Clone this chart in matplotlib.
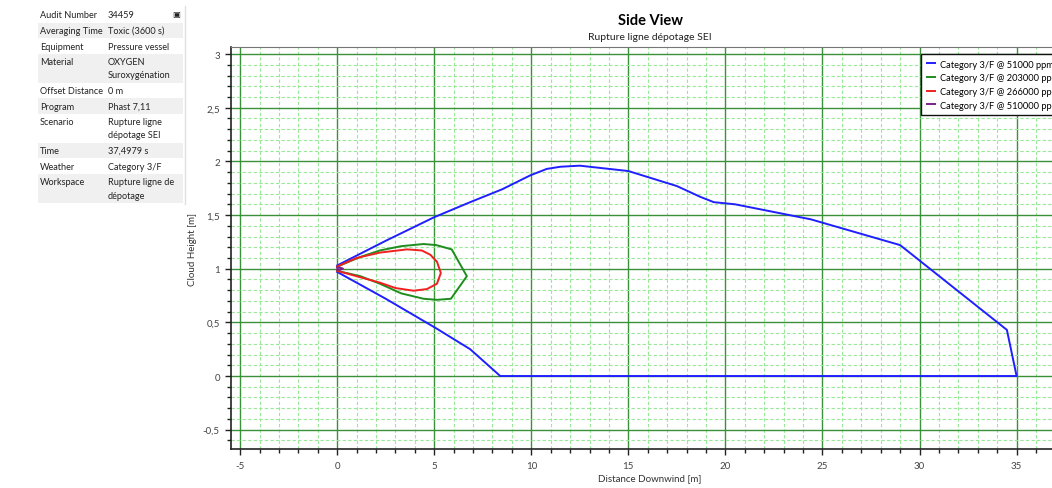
import matplotlib
matplotlib.use("Agg")
import matplotlib.pyplot as plt
from matplotlib.patches import Rectangle
from matplotlib.lines import Line2D
from matplotlib.ticker import MultipleLocator, FuncFormatter

# property panel on the left
prop_labels = ["Audit Number", "Averaging Time", "Equipment", "Material", "Offset Distance",
               "Program", "Scenario", "Time", "Weather", "Workspace"]
prop_values = ["34459", "Toxic (3600 s)", "Pressure vessel", "OXYGEN\nSuroxygénation", "0 m",
               "Phast 7,11", "Rupture ligne\ndépotage SEI", "37,4979 s", "Category 3/F",
               "Rupture ligne de\ndépotage"]

# cloud outlines (closed contours, side view)
series_labels = ["Category 3/F @ 51000 ppm", "Category 3/F @ 203000 ppm",
                 "Category 3/F @ 266000 ppm", "Category 3/F @ 510000 ppm"]
series_colors = ["#1f1fff", "#1e8c1e", "#f02020", "#7a1f8c"]

x_51000 = [0, 2.5, 5.0, 6.85, 8.5, 9.95, 10.8, 11.5, 12.5, 15.0, 17.5, 18.7, 19.4, 20.5, 24.4,
           29.0, 34.5, 35.0, 8.4, 6.85, 5.05, 2.5, 0]
y_51000 = [1.03, 1.26, 1.48, 1.62, 1.74, 1.87, 1.93, 1.95, 1.96, 1.91, 1.77, 1.67, 1.62, 1.60,
           1.46, 1.22, 0.43, 0.0, 0.0, 0.25, 0.45, 0.72, 0.97]

x_203000 = [0, 1.2, 2.2, 3.3, 4.45, 5.1, 5.9, 6.68, 5.86, 5.14, 4.45, 3.3, 2.2, 1.2, 0]
y_203000 = [1.02, 1.11, 1.17, 1.21, 1.23, 1.22, 1.18, 0.93, 0.72, 0.71, 0.72, 0.77, 0.86, 0.93, 0.98]

x_266000 = [0, 1.0, 2.2, 3.6, 4.36, 4.8, 5.14, 5.34, 5.14, 4.62, 3.93, 3.0, 2.2, 1.0, 0]
y_266000 = [1.02, 1.10, 1.15, 1.18, 1.17, 1.13, 1.065, 0.96, 0.86, 0.81, 0.795, 0.82, 0.87, 0.93, 0.98]

x_510000 = [0, 0.15, 0.3, 0.15, 0]
y_510000 = [1.01, 1.01, 1.0, 0.99, 0.99]

W, H = 1052, 489
plt.rcParams["font.family"] = ["Lato", "DejaVu Sans"]

fig = plt.figure(figsize=(W / 100, H / 100), dpi=100)


def fx(px):
    return px / W


def fy(py):
    return 1 - py / H


# --- property table ---
row_top = 8.0
for i, (lab, val) in enumerate(zip(prop_labels, prop_values)):
    nlines = val.count("\n") + 1
    h = 15.6 + 13.3 * (nlines - 1)
    if i % 2 == 1:
        fig.patches.append(Rectangle((fx(38), fy(row_top + h)), fx(183) - fx(38), h / H,
                                     transform=fig.transFigure, facecolor="#f0f0f0",
                                     edgecolor="none", zorder=0))
    for k, line in enumerate(val.split("\n")):
        yc = row_top + 7.8 + 13.3 * k
        fig.text(fx(108), fy(yc), line, fontsize=6.6, color="#222222", va="center", ha="left")
    fig.text(fx(40), fy(row_top + 7.8), lab, fontsize=6.6, color="#222222", va="center", ha="left")
    row_top += h
fig.text(fx(176), fy(14), "\u25a3", fontsize=6, color="#222222", va="center", ha="center",
         family=["DejaVu Sans"])
fig.add_artist(Line2D([fx(185), fx(185)], [fy(7), fy(205)], color="#e0e0e0", lw=1,
                      transform=fig.transFigure))

# --- chart ---
ax = fig.add_axes([fx(231), fy(450), (1069 - 231) / W, (450 - 48.3) / H])
ax.set_xlim(-5.47, 37.7)
ax.set_ylim(-0.68, 3.063)

xs = [x_51000, x_203000, x_266000, x_510000]
ys = [y_51000, y_203000, y_266000, y_510000]
for x, y, c, lab in zip(xs, ys, series_colors, series_labels):
    ax.plot(x, y, color=c, lw=1.4, label=lab, zorder=3)

ax.xaxis.set_major_locator(MultipleLocator(5))
ax.xaxis.set_minor_locator(MultipleLocator(1))
ax.yaxis.set_major_locator(MultipleLocator(0.5))
ax.yaxis.set_minor_locator(MultipleLocator(0.1))
fmt = FuncFormatter(lambda v, p: f"{v:g}".replace(".", ","))
ax.xaxis.set_major_formatter(fmt)
ax.yaxis.set_major_formatter(fmt)

ax.set_axisbelow(True)
ax.grid(which="minor", color="#98e898", lw=0.8, ls=(0, (3, 2)))
ax.grid(which="major", color="#3a913a", lw=1.0)

ax.tick_params(which="major", length=4, width=1, color="#222222", labelsize=7,
               labelcolor="#444444", direction="out")
ax.tick_params(axis="x", which="major", pad=5)
ax.tick_params(axis="y", which="major", pad=4)
ax.tick_params(which="minor", length=3, width=1, color="#222222", direction="out")
for s in ["left", "bottom"]:
    ax.spines[s].set_color("#222222")
    ax.spines[s].set_linewidth(1.2)
ax.spines["top"].set_color("#777777")
ax.spines["right"].set_color("#777777")

ax.set_xlabel("Distance Downwind [m]", fontsize=7, color="#333333", labelpad=2)
ax.set_ylabel("Cloud Height [m]", fontsize=7, color="#333333", labelpad=4)

fig.text(fx(650), fy(21), "Side View", fontsize=10.5, fontweight="bold", ha="center", va="center")
fig.text(fx(650), fy(37), "Rupture ligne dépotage SEI", fontsize=7.5, ha="center", va="center",
         color="#222222")

leg = ax.legend(loc="upper left", bbox_to_anchor=(fx(921), fy(55)), bbox_transform=fig.transFigure,
                fontsize=6.7, handlelength=0.9, handletextpad=0.5, labelspacing=0.5,
                borderpad=0.6, borderaxespad=0, fancybox=False, framealpha=1,
                edgecolor="#111111")
leg.get_frame().set_linewidth(1)

fig.savefig("out.png", dpi=100)
